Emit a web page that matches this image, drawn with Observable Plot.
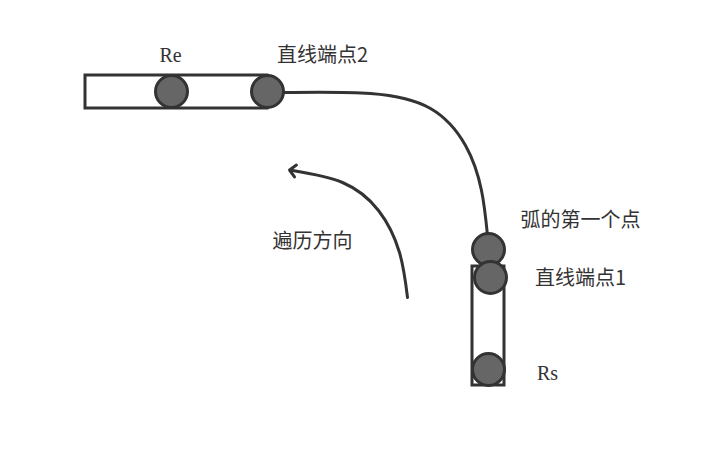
<!DOCTYPE html>
<html><head><meta charset="utf-8">
<script src="https://cdn.jsdelivr.net/npm/d3@7"></script>
<script src="https://cdn.jsdelivr.net/npm/@observablehq/plot@0.6"></script>
<style>body{margin:0;background:#fff}</style>
</head><body><div id="chart"></div>
<script>
// diagram in pixel-like coordinates
const rects = [
  {x1: 85, x2: 267, y1: 75, y2: 108},
  {x1: 472, x2: 504, y1: 266, y2: 385}
]
const nodes = [
  {x: 171, y: 91}, {x: 267, y: 91},
  {x: 488, y: 249}, {x: 490, y: 277}, {x: 488, y: 369}
]
const arc = [[283, 92], [370, 93], [430, 108], [465, 145], [481, 190], [487, 235]]
const arrow = [[407, 297], [399, 252], [378, 210], [342, 182], [292, 170]]
const labels = [
  {x: 170, y: 55, t: "Re", serif: true},
  {x: 322, y: 55, t: "直线端点2"},
  {x: 580, y: 220, t: "弧的第一个点"},
  {x: 580, y: 278, t: "直线端点1"},
  {x: 547, y: 373, t: "Rs", serif: true},
  {x: 312, y: 241, t: "遍历方向"}
]

const chart = Plot.plot({
  width: 727, height: 451,
  margin: 0,
  x: {domain: [0, 727], axis: null},
  y: {domain: [451, 0], axis: null},
  marks: [
    Plot.rect(rects, {x1: "x1", x2: "x2", y1: "y1", y2: "y2", fill: "none", stroke: "#333", strokeWidth: 3}),
    Plot.line(arc, {curve: "natural", stroke: "#333", strokeWidth: 3}),
    Plot.line(arrow, {curve: "natural", stroke: "#333", strokeWidth: 3, markerEnd: "arrow"}),
    Plot.dot(nodes, {x: "x", y: "y", r: 16, fill: "#666", stroke: "#333", strokeWidth: 3}),
    Plot.text(labels.filter(d => !d.serif), {x: "x", y: "y", text: "t", fontSize: 20, fill: "#333", fontFamily: "Noto Sans CJK SC"}),
    Plot.text(labels.filter(d => d.serif), {x: "x", y: "y", text: "t", fontSize: 20, fill: "#333", fontFamily: "Liberation Serif"})
  ],
  style: {background: "#fff"}
})
d3.select("#chart").append(() => chart)
</script></body></html>
